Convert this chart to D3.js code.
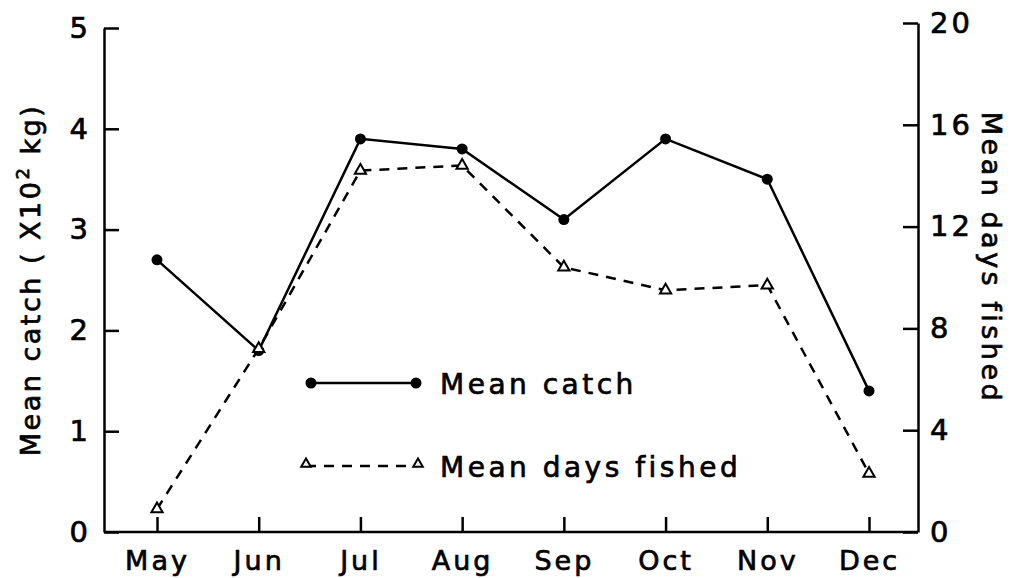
<!DOCTYPE html>
<html lang="en">
<head>
<meta charset="utf-8">
<script src="https://cdnjs.cloudflare.com/ajax/libs/d3/7.8.5/d3.min.js"></script>
<style>
    body { margin: 0; background: #fff; }
    text { font-family: "DejaVu Sans", sans-serif; fill: #000; stroke: #000; stroke-width: 0.7px; }
    .axis path, .axis line { stroke: #000; stroke-width: 2.5; }
</style>
</head>
<body>
<svg width="1013" height="578"></svg>
<script>
// data
var months = ["May", "Jun", "Jul", "Aug", "Sep", "Oct", "Nov", "Dec"];
var meanCatch = [2.7, 1.8, 3.9, 3.8, 3.1, 3.9, 3.5, 1.4];
var meanDays = [0.9, 7.2, 14.2, 14.4, 10.4, 9.5, 9.7, 2.3];
var leftTicks = [0, 1, 2, 3, 4, 5];
var rightTicks = [0, 4, 8, 12, 16, 20];

var svg = d3.select("svg");
var x0 = 104, x1 = 918, yBottom = 532, yTop = 28;

var x = d3.scalePoint().domain(months).range([157, 869]);
var yL = d3.scaleLinear().domain([0, 5]).range([yBottom, yTop]);
var yR = d3.scaleLinear().domain([0, 20]).range([yBottom, yTop - 5]);

// axes
var gl = svg.append("g").attr("class", "axis")
    .attr("transform", "translate(" + x0 + ",0)")
    .call(d3.axisLeft(yL).tickValues(leftTicks).tickFormat(d3.format("d"))
        .tickSizeInner(-15).tickSizeOuter(0).tickPadding(16));
gl.selectAll("text").style("font-size", "29px");

var gr = svg.append("g").attr("class", "axis")
    .attr("transform", "translate(" + x1 + ",0)")
    .call(d3.axisRight(yR).tickValues(rightTicks).tickSizeInner(-15).tickSizeOuter(0).tickPadding(12));
gr.selectAll("text").style("font-size", "29px").attr("letter-spacing", "3px");

var gb = svg.append("g").attr("class", "axis")
    .attr("transform", "translate(0," + yBottom + ")")
    .call(d3.axisBottom(x).tickSizeInner(-15).tickSizeOuter(0).tickPadding(14));
gb.select(".domain").attr("d", "M" + x0 + ",0H" + x1);
gb.selectAll("text").style("font-size", "27px").attr("letter-spacing", "3px").attr("dy", "0.9em");

// axis titles
svg.append("text")
    .attr("transform", "translate(40,280) rotate(-90)")
    .attr("text-anchor", "middle")
    .style("font-size", "27px")
    .attr("letter-spacing", "2.5px")
    .html("Mean catch ( X10<tspan dy='-11' font-size='18px'>2</tspan><tspan dy='11'> kg)</tspan>");

svg.append("text")
    .attr("transform", "translate(982,258) rotate(90)")
    .attr("text-anchor", "middle")
    .style("font-size", "27px")
    .attr("letter-spacing", "3.5px")
    .text("Mean  days  fished");

// series
var lineC = d3.line().x(function(d, i) { return x(months[i]); }).y(function(d) { return yL(d); });
var lineD = d3.line().x(function(d, i) { return x(months[i]); }).y(function(d) { return yR(d); });

svg.append("path").datum(meanCatch).attr("d", lineC)
    .attr("fill", "none").attr("stroke", "#000").attr("stroke-width", 2.5);
svg.append("path").datum(meanDays).attr("d", lineD)
    .attr("fill", "none").attr("stroke", "#000").attr("stroke-width", 2.5)
    .attr("stroke-dasharray", "10,8");

svg.selectAll(".dot").data(meanCatch).enter().append("circle")
    .attr("cx", function(d, i) { return x(months[i]); })
    .attr("cy", function(d) { return yL(d); })
    .attr("r", 5.5).attr("fill", "#000");

var tri = d3.symbol().type(d3.symbolTriangle).size(55);
svg.selectAll(".tri").data(meanDays).enter().append("path")
    .attr("d", tri)
    .attr("transform", function(d, i) { return "translate(" + x(months[i]) + "," + yR(d) + ")"; })
    .attr("fill", "#fff").attr("stroke", "#000").attr("stroke-width", 2);

// legend
var lg = svg.append("g");
lg.append("line").attr("x1", 311).attr("x2", 416).attr("y1", 383).attr("y2", 383)
    .attr("stroke", "#000").attr("stroke-width", 2.5);
lg.selectAll(".ld").data([311, 416]).enter().append("circle")
    .attr("cx", function(d) { return d; }).attr("cy", 383).attr("r", 5.5).attr("fill", "#000");
lg.append("text").attr("x", 440).attr("y", 394).style("font-size", "28px")
    .attr("letter-spacing", "3.5px").text("Mean  catch");

lg.append("line").attr("x1", 306).attr("x2", 418).attr("y1", 466).attr("y2", 466)
    .attr("stroke", "#000").attr("stroke-width", 2.5).attr("stroke-dasharray", "10,8");
lg.selectAll(".lt").data([306, 418]).enter().append("path")
    .attr("d", d3.symbol().type(d3.symbolTriangle).size(40))
    .attr("transform", function(d) { return "translate(" + d + ",464)"; })
    .attr("fill", "#fff").attr("stroke", "#000").attr("stroke-width", 2);
lg.append("text").attr("x", 440).attr("y", 477).style("font-size", "28px")
    .attr("letter-spacing", "3.5px").text("Mean  days  fished");
</script>
</body>
</html>
